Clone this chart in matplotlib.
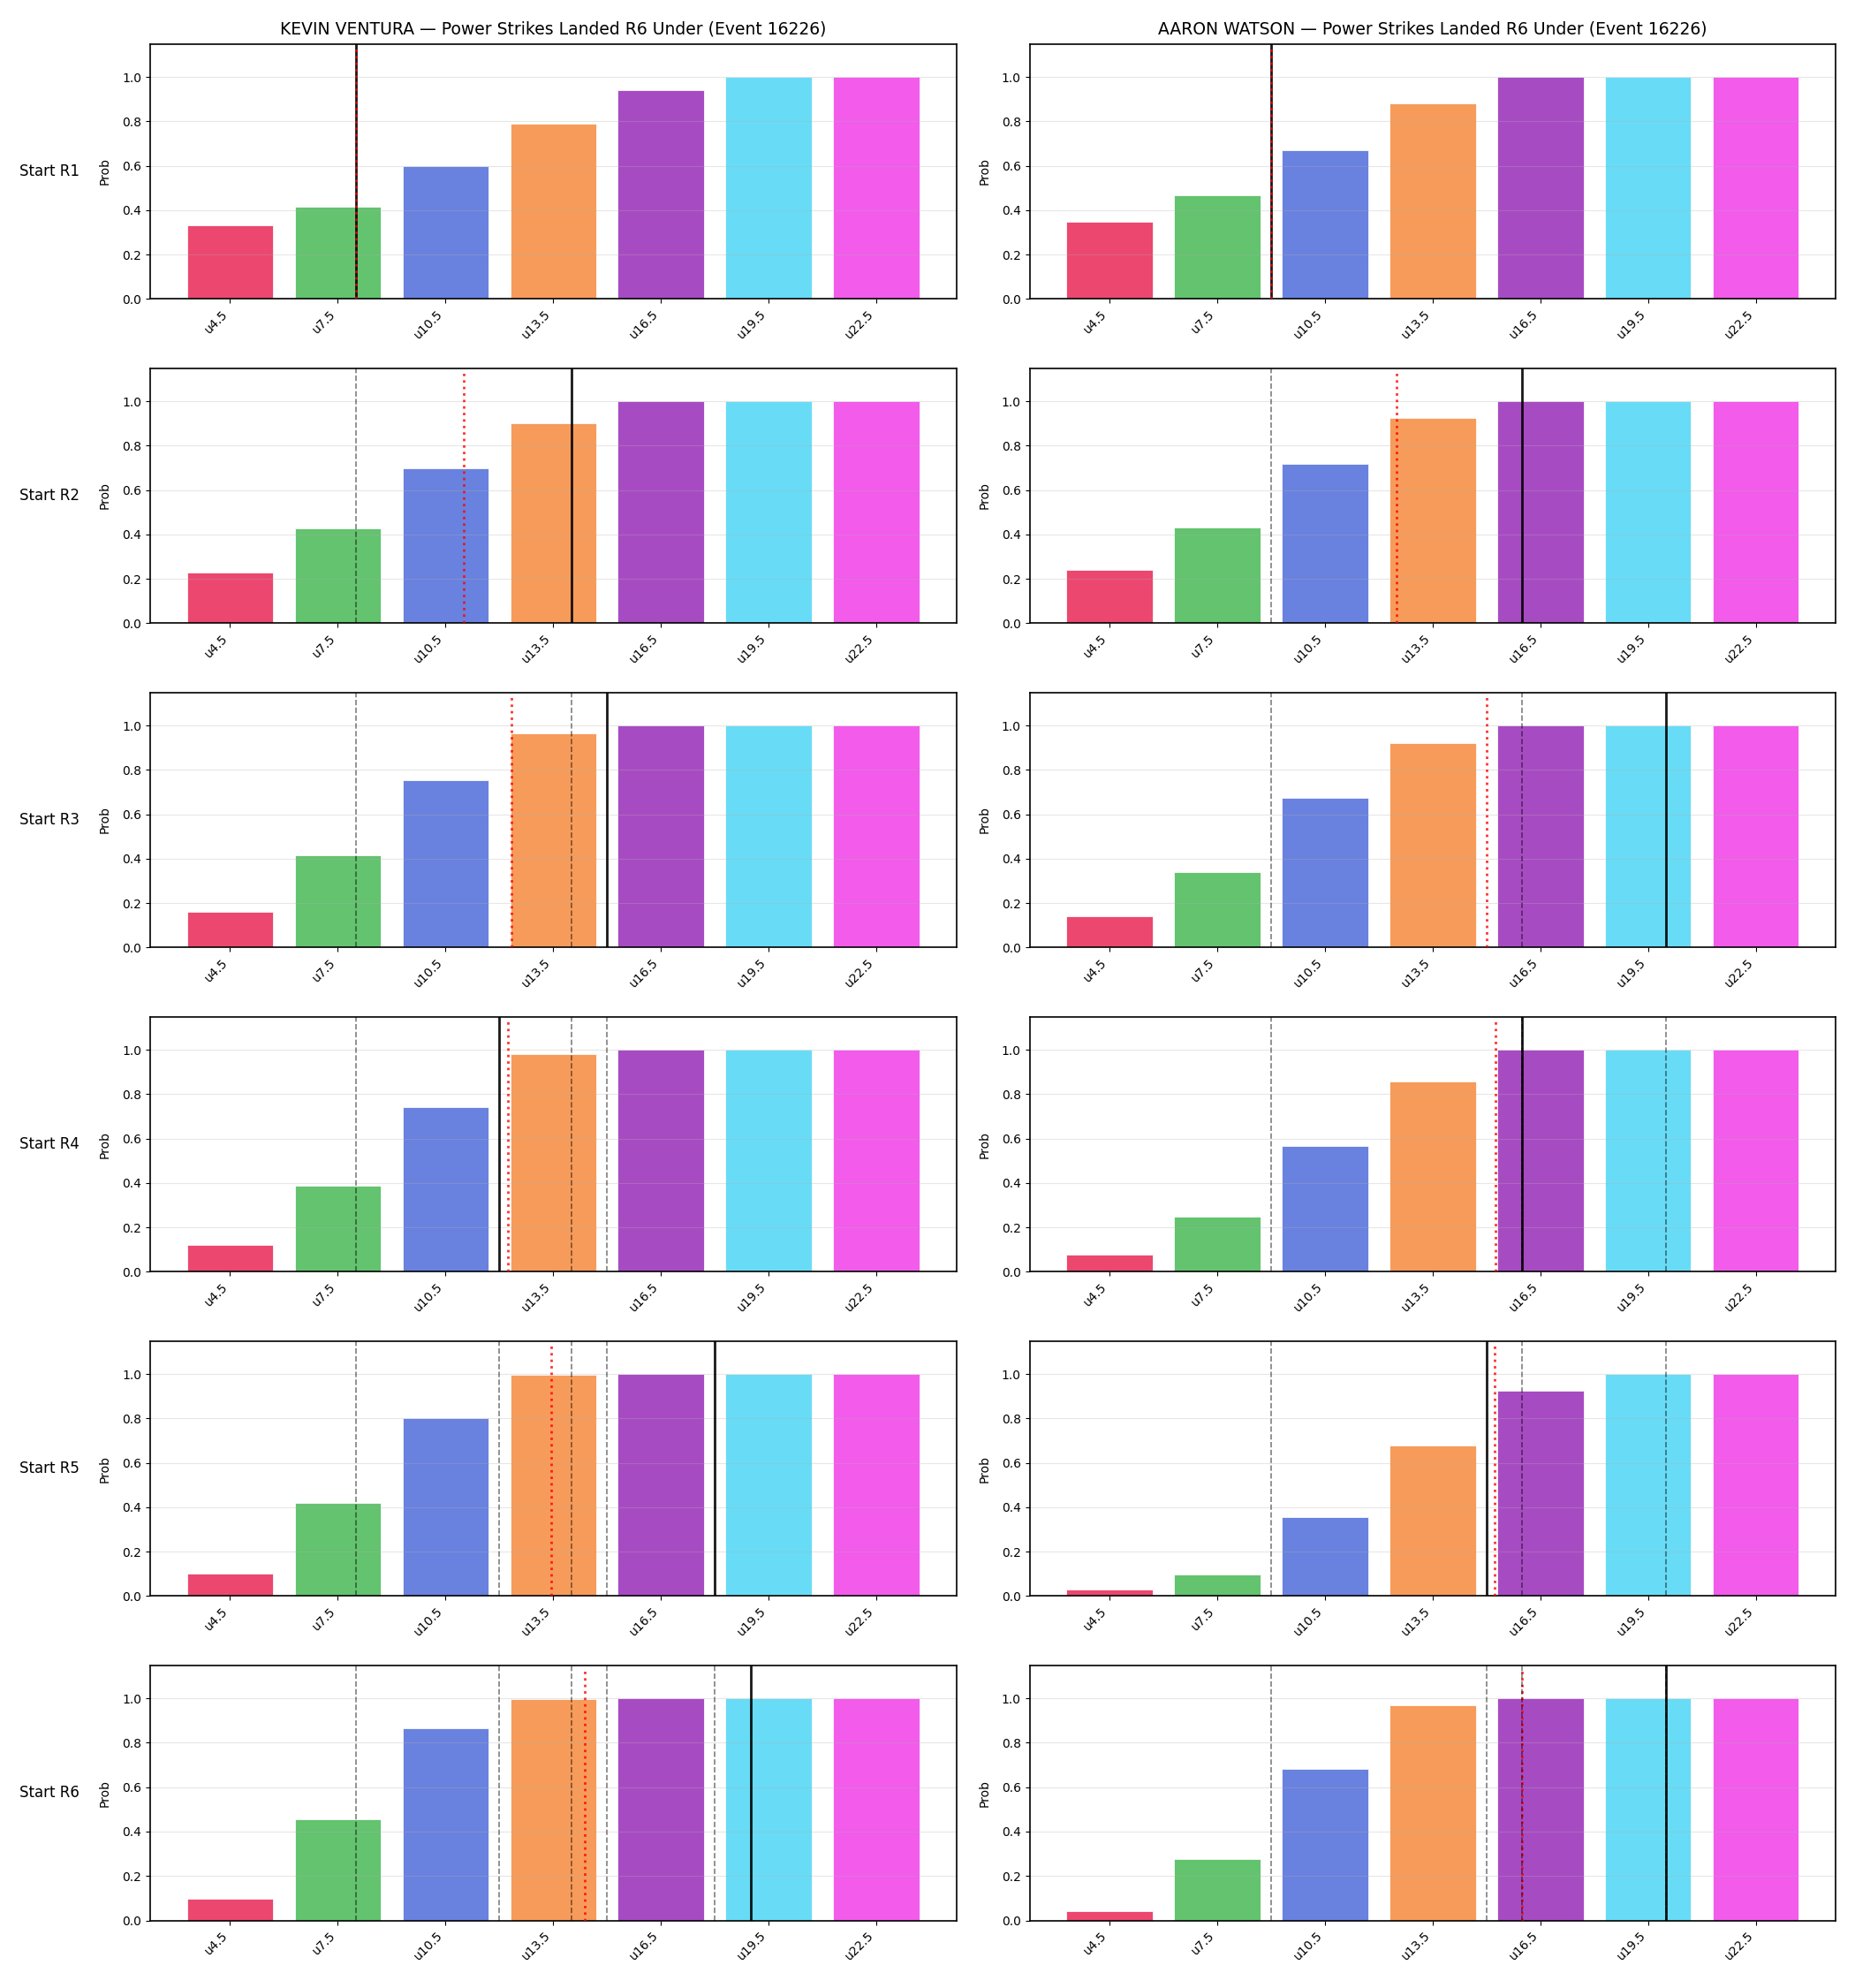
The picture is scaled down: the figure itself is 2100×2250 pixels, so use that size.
import numpy as np
import matplotlib
matplotlib.use("Agg")
import matplotlib.pyplot as plt

lines = [4.5, 7.5, 10.5, 13.5, 16.5, 19.5, 22.5]
labels = ['u4.5', 'u7.5', 'u10.5', 'u13.5', 'u16.5', 'u19.5', 'u22.5']
colors = ['#e6194b', '#3cb44b', '#4363d8', '#f58231', '#911eb4', '#42d4f4', '#f032e6']
rounds = ['Start R1', 'Start R2', 'Start R3', 'Start R4', 'Start R5', 'Start R6']

ventura_probs = [
    [0.332, 0.415, 0.598, 0.790, 0.941, 1.0, 1.0],
    [0.230, 0.428, 0.700, 0.902, 1.0, 1.0, 1.0],
    [0.162, 0.416, 0.755, 0.966, 1.0, 1.0, 1.0],
    [0.121, 0.389, 0.741, 0.981, 1.0, 1.0, 1.0],
    [0.103, 0.420, 0.801, 0.998, 1.0, 1.0, 1.0],
    [0.098, 0.455, 0.866, 0.998, 1.0, 1.0, 1.0],
]
ventura_mean = [8.0, 14.0, 15.0, 12.0, 18.0, 19.0]
ventura_proj = [8.0, 11.0, 12.33, 12.24, 13.45, 14.37]

watson_probs = [
    [0.348, 0.468, 0.671, 0.883, 1.0, 1.0, 1.0],
    [0.240, 0.432, 0.718, 0.926, 1.0, 1.0, 1.0],
    [0.142, 0.341, 0.675, 0.922, 1.0, 1.0, 1.0],
    [0.079, 0.247, 0.567, 0.859, 1.0, 1.0, 1.0],
    [0.028, 0.098, 0.356, 0.678, 0.926, 1.0, 1.0],
    [0.042, 0.276, 0.682, 0.969, 1.0, 1.0, 1.0],
]
watson_mean = [9.0, 16.0, 20.0, 16.0, 15.0, 20.0]
watson_proj = [9.0, 12.5, 15.0, 15.25, 15.23, 16.0]

fighters = [
    ('KEVIN VENTURA', ventura_probs, ventura_mean, ventura_proj),
    ('AARON WATSON', watson_probs, watson_mean, watson_proj),
]

idx = np.arange(len(lines))


def to_x(v):
    # strike count -> bar index position
    return np.interp(v, lines, idx)


fig, axes = plt.subplots(6, 2, figsize=(21, 22.5), dpi=100)
fig.subplots_adjust(left=0.081, right=0.9895, top=0.978, bottom=0.034,
                    wspace=0.091, hspace=0.27)

for col, (name, probs, means, projs) in enumerate(fighters):
    for r in range(6):
        ax = axes[r, col]
        ax.bar(idx, probs[r], width=0.8, color=colors, alpha=0.8,
               edgecolor='white', linewidth=0.7)
        ax.axvline(to_x(means[r]), color='black', linewidth=2, alpha=0.9, zorder=3)
        ax.axvline(to_x(projs[r]), color='red', linestyle=':', linewidth=2,
                   alpha=0.8, ymax=0.98, zorder=4)
        for v in sorted(set(means[:r])):
            ax.axvline(to_x(v), color='black', linestyle='--', linewidth=1.2,
                       alpha=0.5, zorder=5)
        ax.set_ylim(0, 1.15)
        ax.set_xticks(idx)
        ax.set_xticklabels(labels, rotation=45, ha='right')
        ax.set_ylabel('Prob', labelpad=9)
        ax.grid(axis='y', alpha=0.3)
        for s in ax.spines.values():
            s.set_linewidth(1.2)
        if r == 0:
            ax.set_title(f'{name} \u2014 Power Strikes Landed R6 Under (Event 16226)',
                         fontsize=13.5, pad=8)
        if col == 0:
            ax.annotate(rounds[r], xy=(0, 0.5), xycoords='axes fraction',
                        xytext=(-58, 0), textcoords='offset points',
                        ha='right', va='center', fontsize=12)

fig.savefig('out.png', dpi=100)
